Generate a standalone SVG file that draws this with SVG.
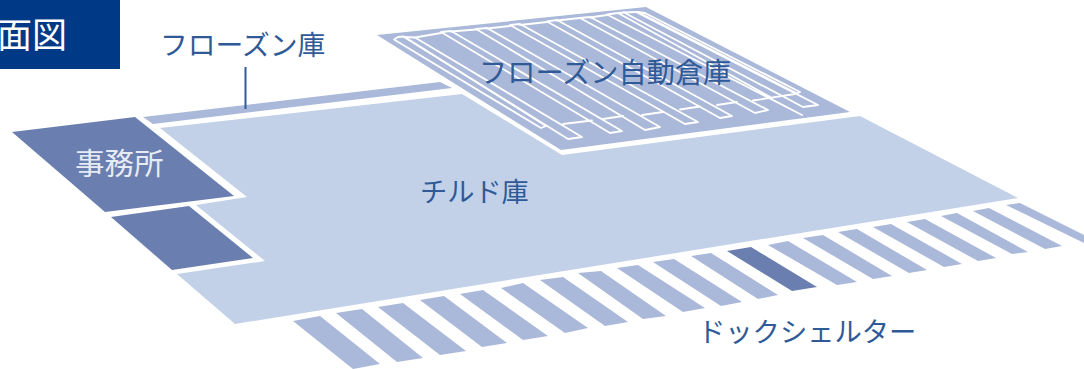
<svg xmlns="http://www.w3.org/2000/svg" width="1084" height="369" viewBox="0 0 1084 369">
<style>
text{font-family:"Noto Sans CJK JP","Noto Sans JP",sans-serif;font-weight:400;fill:#2f5a97;font-size:27.5px}
.light{fill:#c2d1e7}.mid{fill:#aab8d9}.dark{fill:#6a7eb0}
.rack{fill:none;stroke:#fff;stroke-width:1.8;stroke-linejoin:round;stroke-linecap:round}
</style>
<rect width="1084" height="369" fill="#fff"/>
<g id="title"><rect width="120" height="69" fill="#003a87"/><text x="-3" y="47.500" style="font-size:35px;font-weight:400;fill:#fff">面図</text></g>
<g id="chilled"><polygon class="light" points="160,128 462,94 562,155 860,116 1018,198 235,324 177,274 265,261 196,205 247,197"/><text x="420" y="202" style="font-size:27.2px">チルド庫</text></g>
<g id="frozen"><polygon class="mid" points="143,117 440,82 452,88 153,124"/><text x="160" y="55" style="font-size:27.8px">フローズン庫</text></g>
<g id="frozen-auto"><polygon class="mid" points="377,35 646,7 850,112 561,150"/>
<g class="rack">
<polygon points="394,39.500 398,37 404,36.500 546,126 541,128"/>
<polygon points="404,37 415,37.500 582,137 568,139"/>
<polygon points="441,32 451,31 622,131 610,133"/>
<polygon points="476,29 487,28 660,127 645,130"/>
<polygon points="510,25 520,24 698,122 685,124"/>
<polygon points="547,21.500 557,20 732,116 720,118"/>
<polygon points="580,18 590,17 768,110 755,113"/>
<polygon points="624,12.500 636,12 818,105 803,107"/>
<polygon points="638,12 645,13 800,92 797,93.500"/>
<path d="M607,14.500L618,13M607,14.500L802,115M618,13L772,98M618,13L624,12.500M636,12L638,12M415,37.500L441,33M451,31.500L476,29.500M487,28.500L510,26M520,25L547,22M557,20.500L580,18M590,17.500L607,15M563,124L592,120.500M603,119L623,116M642,115L663,112M680,109.500L700,106.500M717,105L737,102M753,100.500L795,94"/>
</g>
<text x="479" y="83" style="font-size:28.2px">フローズン自動倉庫</text></g>
<g id="office"><polygon class="dark" points="12,132 135,117 234,196 105,212"/><text x="75" y="174" style="font-size:29.500px;fill:#e6ebf5">事務所</text></g>
<g id="room"><polygon class="dark" points="111,217 189,206 253,258 172,270"/></g>
<g id="dock-shelter">
<polygon class="mid" points="293,321 320,316 380,364 353,369"/>
<polygon class="mid" points="336,313 362,309 423,358 397,362"/>
<polygon class="mid" points="378,307 403,303 466,351 440,355"/>
<polygon class="mid" points="420,300 444,296 507,343 482,347"/>
<polygon class="mid" points="460,294 483,290 548,336 523,340"/>
<polygon class="mid" points="501,288 523,283 588,328 565,333"/>
<polygon class="mid" points="540,280 563,277 628,322 605,326"/>
<polygon class="mid" points="578,273 601,271 666,316 643,319"/>
<polygon class="mid" points="617,268 638,265 705,308 683,312"/>
<polygon class="mid" points="653,262 674,259 742,302 721,306"/>
<polygon class="mid" points="691,256 711,253 778,295 758,299"/>
<polygon class="dark" points="727,251 751,247 817,287 792,291"/>
<polygon class="mid" points="768,245 788,241 857,282 837,285"/>
<polygon class="mid" points="803,238 823,235 892,276 873,279"/>
<polygon class="mid" points="838,232 857,229 927,270 909,273"/>
<polygon class="mid" points="873,227 891,224 962,264 944,267"/>
<polygon class="mid" points="907,222 925,219 996,258 978,261"/>
<polygon class="mid" points="941,216 957,213 1028,252 1012,254"/>
<polygon class="mid" points="973,211 989,208 1062,246 1045,249"/>
<polygon class="mid" points="1006,205 1020,203 1084,235 1084,243"/>
<text x="698" y="342" style="font-size:27.3px">ドックシェルター</text></g>
<g id="connectors"><line x1="245.500" y1="67" x2="245.500" y2="109" stroke="#2f5a97" stroke-width="2"/></g>
</svg>
